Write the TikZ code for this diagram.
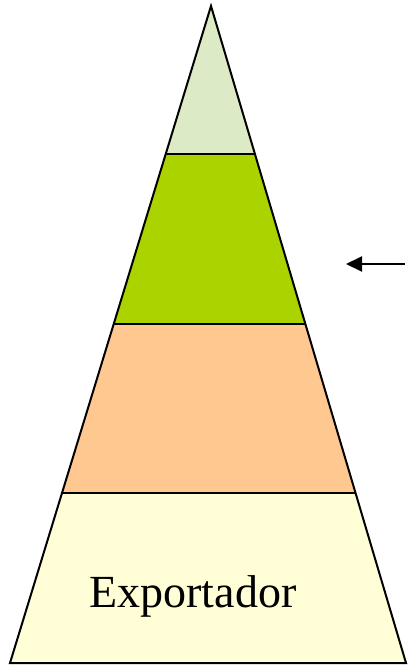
\documentclass[tikz,border=0pt]{standalone}
\usepackage{fontspec}
\setmainfont{Liberation Serif}
\usetikzlibrary{arrows.meta,calc}
\definecolor{tierA}{HTML}{DCEBC6}
\definecolor{tierB}{HTML}{ABD300}
\definecolor{tierC}{HTML}{FFC891}
\definecolor{tierD}{HTML}{FFFED6}
\begin{document}
\begin{tikzpicture}[x=1pt,y=-1pt,
  tier/.style={draw=black,line width=2pt,line join=miter},
  lbl/.style={font=\fontsize{46}{50}\selectfont,inner sep=0pt}]
\useasboundingbox (0,0) rectangle (407,666);
\coordinate (apex) at (211,6);
\coordinate (l4) at (10,663); \coordinate (r4) at (406,663);
\coordinate (l1) at ($(apex)!0.2253!(l4)$); \coordinate (r1) at ($(apex)!0.2253!(r4)$);
\coordinate (l2) at ($(apex)!0.4840!(l4)$); \coordinate (r2) at ($(apex)!0.4840!(r4)$);
\coordinate (l3) at ($(apex)!0.7412!(l4)$); \coordinate (r3) at ($(apex)!0.7412!(r4)$);
\fill[tierD] (l3) -- (r3) -- (r4) -- (l4) -- cycle;
\fill[tierC] (l2) -- (r2) -- (r3) -- (l3) -- cycle;
\fill[tierB] (l1) -- (r1) -- (r2) -- (l2) -- cycle;
\fill[tierA] (apex) -- (r1) -- (l1) -- cycle;
\draw[tier] (apex) -- (l4) -- (r4) -- cycle;
\draw[tier] (l1) -- (r1);
\draw[tier] (l2) -- (r2);
\draw[tier] (l3) -- (r3);
\node[lbl] (exp) at (193,596) {Exportador};
\coordinate (arrS) at (405,264);
\coordinate (arrE) at (346,264);
\draw[line width=2pt,-{Triangle[length=16pt,width=15pt]}] (arrS) -- (arrE);
\end{tikzpicture}
\end{document}
